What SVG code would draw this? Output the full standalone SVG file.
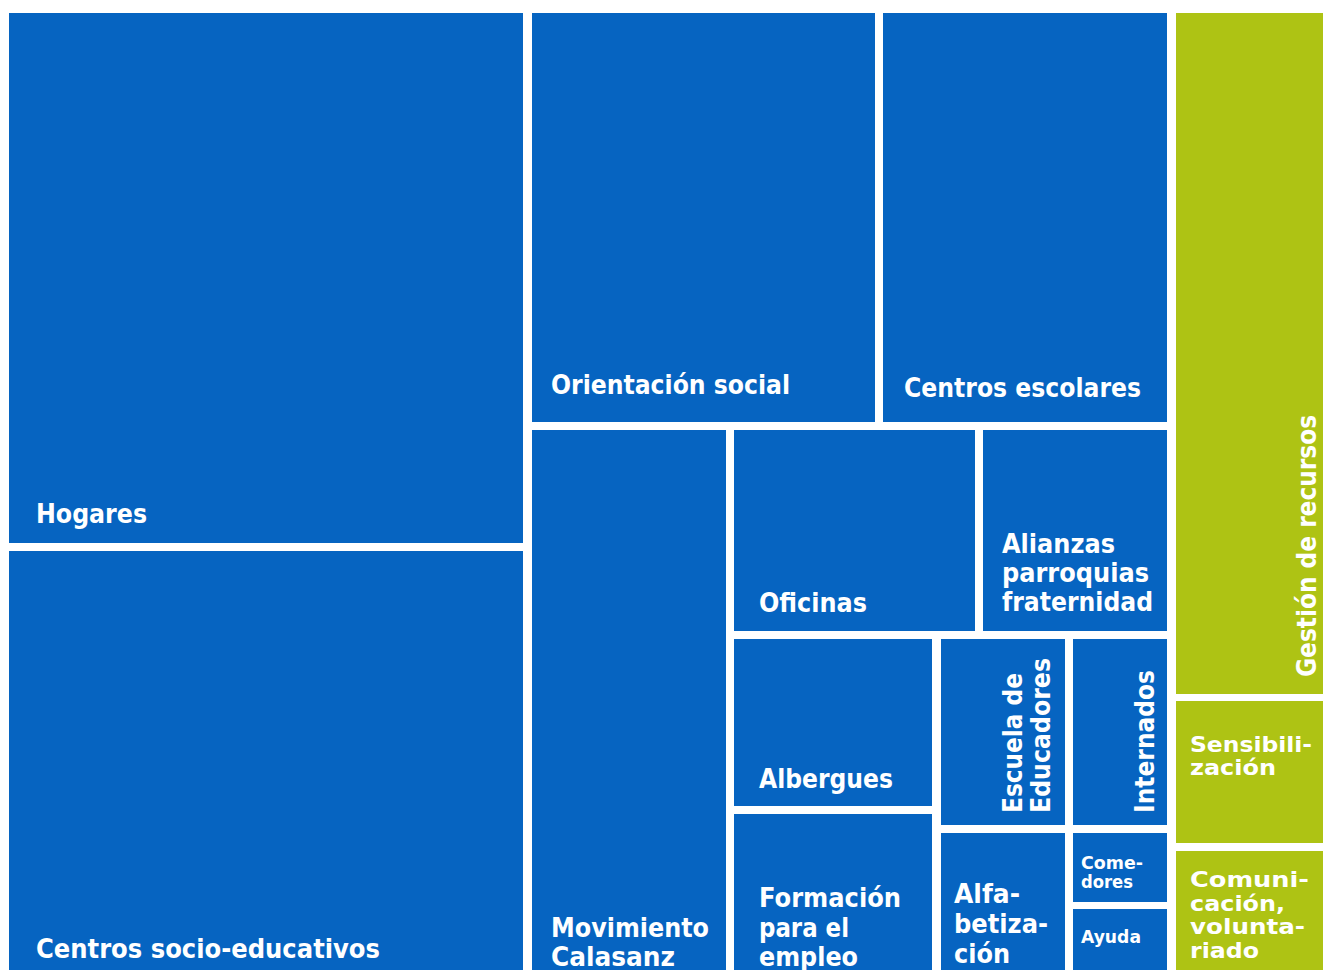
<svg xmlns="http://www.w3.org/2000/svg" width="1323" height="970" viewBox="0 0 1323 970">
<style>
.b{fill:#0664C1}
.g{fill:#AEC314}
text{font-family:"DejaVu Sans","Inter",sans-serif;font-weight:700;fill:#ffffff;font-size:26px}
.s{font-size:17px}
.t{font-size:21px}
</style>
<rect x="0" y="0" width="1323" height="970" fill="#ffffff"/>
<g id="hogares"><rect class="b" x="9" y="13" width="514" height="530"/><text x="36" y="523" textLength="111" lengthAdjust="spacingAndGlyphs">Hogares</text></g>
<g id="centros-socio-educativos"><rect class="b" x="9" y="551" width="514" height="419"/><text x="36" y="958" textLength="344" lengthAdjust="spacingAndGlyphs">Centros socio-educativos</text></g>
<g id="orientacion-social"><rect class="b" x="532" y="13" width="343" height="409"/><text x="551" y="394" textLength="239" lengthAdjust="spacingAndGlyphs">Orientación social</text></g>
<g id="centros-escolares"><rect class="b" x="883" y="13" width="284" height="409"/><text x="904" y="397" textLength="237" lengthAdjust="spacingAndGlyphs">Centros escolares</text></g>
<g id="movimiento-calasanz"><rect class="b" x="532" y="430" width="194" height="540"/><text x="551" y="937" textLength="158" lengthAdjust="spacingAndGlyphs">Movimiento</text><text x="551" y="966" textLength="124" lengthAdjust="spacingAndGlyphs">Calasanz</text></g>
<g id="oficinas"><rect class="b" x="734" y="430" width="241" height="201"/><text x="759" y="612" textLength="108" lengthAdjust="spacingAndGlyphs">Oficinas</text></g>
<g id="alianzas"><rect class="b" x="983" y="430" width="184" height="201"/><text x="1002" y="553" textLength="113" lengthAdjust="spacingAndGlyphs">Alianzas</text><text x="1002" y="582" textLength="147" lengthAdjust="spacingAndGlyphs">parroquias</text><text x="1002" y="611" textLength="151" lengthAdjust="spacingAndGlyphs">fraternidad</text></g>
<g id="albergues"><rect class="b" x="734" y="639" width="198" height="167"/><text x="759" y="788" textLength="134" lengthAdjust="spacingAndGlyphs">Albergues</text></g>
<g id="formacion"><rect class="b" x="734" y="814" width="198" height="156"/><text x="759" y="907" textLength="142" lengthAdjust="spacingAndGlyphs">Formación</text><text x="759" y="937" textLength="90" lengthAdjust="spacingAndGlyphs">para el</text><text x="759" y="966" textLength="99" lengthAdjust="spacingAndGlyphs">empleo</text></g>
<g id="escuela"><rect class="b" x="941" y="639" width="124" height="186"/><text transform="translate(1022,813) rotate(-90)" x="0" y="0" textLength="140" lengthAdjust="spacingAndGlyphs">Escuela de</text><text transform="translate(1050,813) rotate(-90)" x="0" y="0" textLength="155" lengthAdjust="spacingAndGlyphs">Educadores</text></g>
<g id="internados"><rect class="b" x="1073" y="639" width="94" height="186"/><text transform="translate(1154,813) rotate(-90)" x="0" y="0" textLength="143" lengthAdjust="spacingAndGlyphs">Internados</text></g>
<g id="alfabetizacion"><rect class="b" x="941" y="833" width="124" height="137"/><text x="954" y="903" textLength="66" lengthAdjust="spacingAndGlyphs">Alfa-</text><text x="954" y="933" textLength="94" lengthAdjust="spacingAndGlyphs">betiza-</text><text x="954" y="963" textLength="56" lengthAdjust="spacingAndGlyphs">ción</text></g>
<g id="comedores"><rect class="b" x="1073" y="833" width="94" height="69"/><text class="s" x="1081" y="869" textLength="62" lengthAdjust="spacingAndGlyphs">Come-</text><text class="s" x="1081" y="888" textLength="52" lengthAdjust="spacingAndGlyphs">dores</text></g>
<g id="ayuda"><rect class="b" x="1073" y="909" width="94" height="61"/><text class="s" x="1081" y="943" textLength="60" lengthAdjust="spacingAndGlyphs">Ayuda</text></g>
<g id="gestion"><rect class="g" x="1176" y="13" width="147" height="681"/><text transform="translate(1316,677) rotate(-90)" x="0" y="0" textLength="262" lengthAdjust="spacingAndGlyphs">Gestión de recursos</text></g>
<g id="sensibilizacion"><rect class="g" x="1176" y="701" width="147" height="142"/><text class="t" x="1190" y="752" textLength="122" lengthAdjust="spacingAndGlyphs">Sensibili-</text><text class="t" x="1190" y="775" textLength="86" lengthAdjust="spacingAndGlyphs">zación</text></g>
<g id="comunicacion"><rect class="g" x="1176" y="851" width="147" height="119"/><text class="t" x="1190" y="887" textLength="119" lengthAdjust="spacingAndGlyphs">Comuni-</text><text class="t" x="1190" y="911" textLength="95" lengthAdjust="spacingAndGlyphs">cación,</text><text class="t" x="1190" y="934" textLength="115" lengthAdjust="spacingAndGlyphs">volunta-</text><text class="t" x="1190" y="958" textLength="69" lengthAdjust="spacingAndGlyphs">riado</text></g>
<g id="connectors"/>
</svg>
